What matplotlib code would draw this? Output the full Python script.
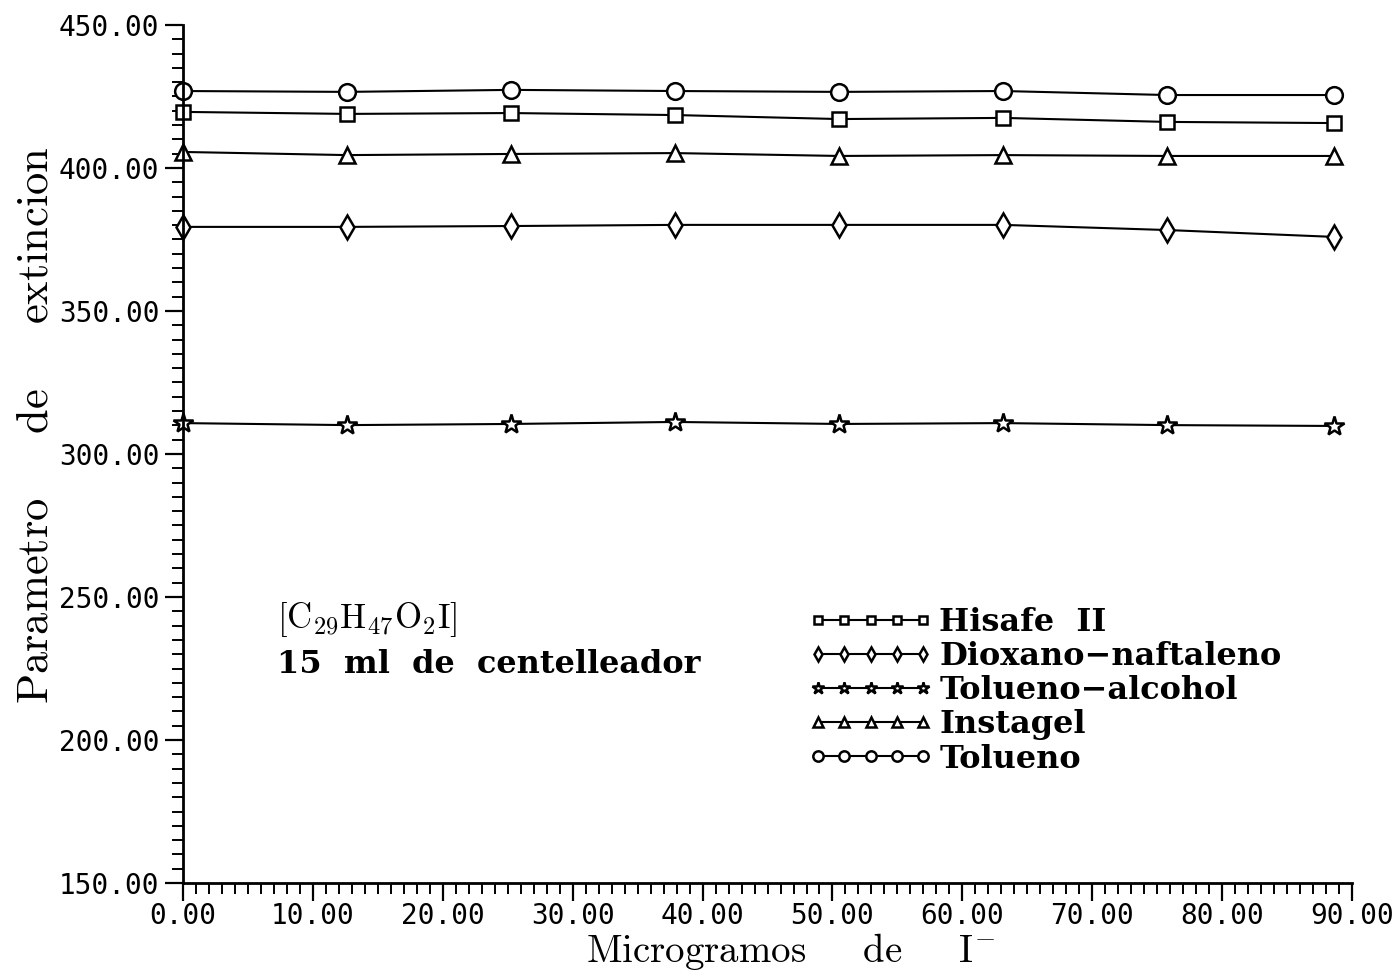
import matplotlib
matplotlib.use("Agg")
import matplotlib.pyplot as plt
from matplotlib.ticker import MultipleLocator, FormatStrFormatter

plt.rcParams['mathtext.fontset'] = 'cm'

# Datos
microgramos = [0.0, 12.63, 25.26, 37.89, 50.52, 63.15, 75.78, 88.6]
hisafe = [419.6, 418.9, 419.2, 418.5, 417.1, 417.5, 416.1, 415.7]
dioxano = [379.4, 379.4, 379.7, 380.1, 380.1, 380.1, 378.3, 375.9]
tol_alcohol = [310.8, 310.1, 310.5, 311.2, 310.5, 310.8, 310.1, 309.8]
instagel = [405.6, 404.5, 404.9, 405.2, 404.2, 404.5, 404.2, 404.2]
tolueno = [426.9, 426.6, 427.3, 426.9, 426.6, 426.9, 425.5, 425.5]

series = [
    (hisafe, 's', 10, 'Hisafe  II'),
    (dioxano, 'd', 12, 'Dioxano\u2212naftaleno'),
    (tol_alcohol, '*', 15, 'Tolueno\u2212alcohol'),
    (instagel, '^', 12, 'Instagel'),
    (tolueno, 'o', 12, 'Tolueno'),
]

fig = plt.figure(figsize=(13.94, 9.71), dpi=100)
ax = fig.add_axes([0.1313, 0.0906, 0.8386, 0.8837])

for vals, mk, ms, lab in series:
    ax.plot(microgramos, vals, color='black', lw=1.5, marker=mk, ms=ms,
            mfc='white', mec='black', mew=1.8, label=lab, clip_on=False)

ax.set_xlim(0, 90)
ax.set_ylim(150, 450)

for s in ['top', 'right']:
    ax.spines[s].set_visible(False)
for s in ['left', 'bottom']:
    ax.spines[s].set_linewidth(2)

ax.xaxis.set_major_locator(MultipleLocator(10))
ax.xaxis.set_minor_locator(MultipleLocator(1))
ax.yaxis.set_major_locator(MultipleLocator(50))
ax.yaxis.set_minor_locator(MultipleLocator(5))
ax.xaxis.set_major_formatter(FormatStrFormatter('%.2f'))
ax.yaxis.set_major_formatter(FormatStrFormatter('%.2f'))
ax.tick_params(which='major', direction='out', length=13, width=1.6,
               labelsize=20, pad=4)
ax.tick_params(which='minor', direction='out', length=8, width=1.4)
ax.tick_params(axis='x', which='major', pad=1)
for t in ax.get_xticklabels() + ax.get_yticklabels():
    t.set_family('DejaVu Sans Mono')

ax.set_xlabel(r'$\mathrm{Microgramos\ \ \ \ \ de\ \ \ \ \ I^{-}}$', fontsize=28)
ax.xaxis.set_label_coords(0.52, -0.056)
ax.set_ylabel(r'$\mathrm{Parametro\ \ \ \ \ de\ \ \ \ \ extincion}$', fontsize=32)
ax.yaxis.set_label_coords(-0.108, 0.534)

ax.text(7.2, 242, r'$\mathrm{[C_{29}H_{47}O_{2}I]}$', fontsize=25, va='center')
ax.text(7.2, 226.5, '15  ml  de  centelleador', fontsize=23, va='center',
        family='DejaVu Serif', weight='bold')

ax.legend(loc='upper left', bbox_to_anchor=(0.535, 0.322), frameon=False,
          numpoints=5, handlelength=3.9, markerscale=0.62,
          prop={'family': 'DejaVu Serif', 'weight': 'bold', 'size': 23},
          handletextpad=0.2, labelspacing=0.1, borderpad=0, borderaxespad=0)

fig.savefig('out.png', dpi=100)
